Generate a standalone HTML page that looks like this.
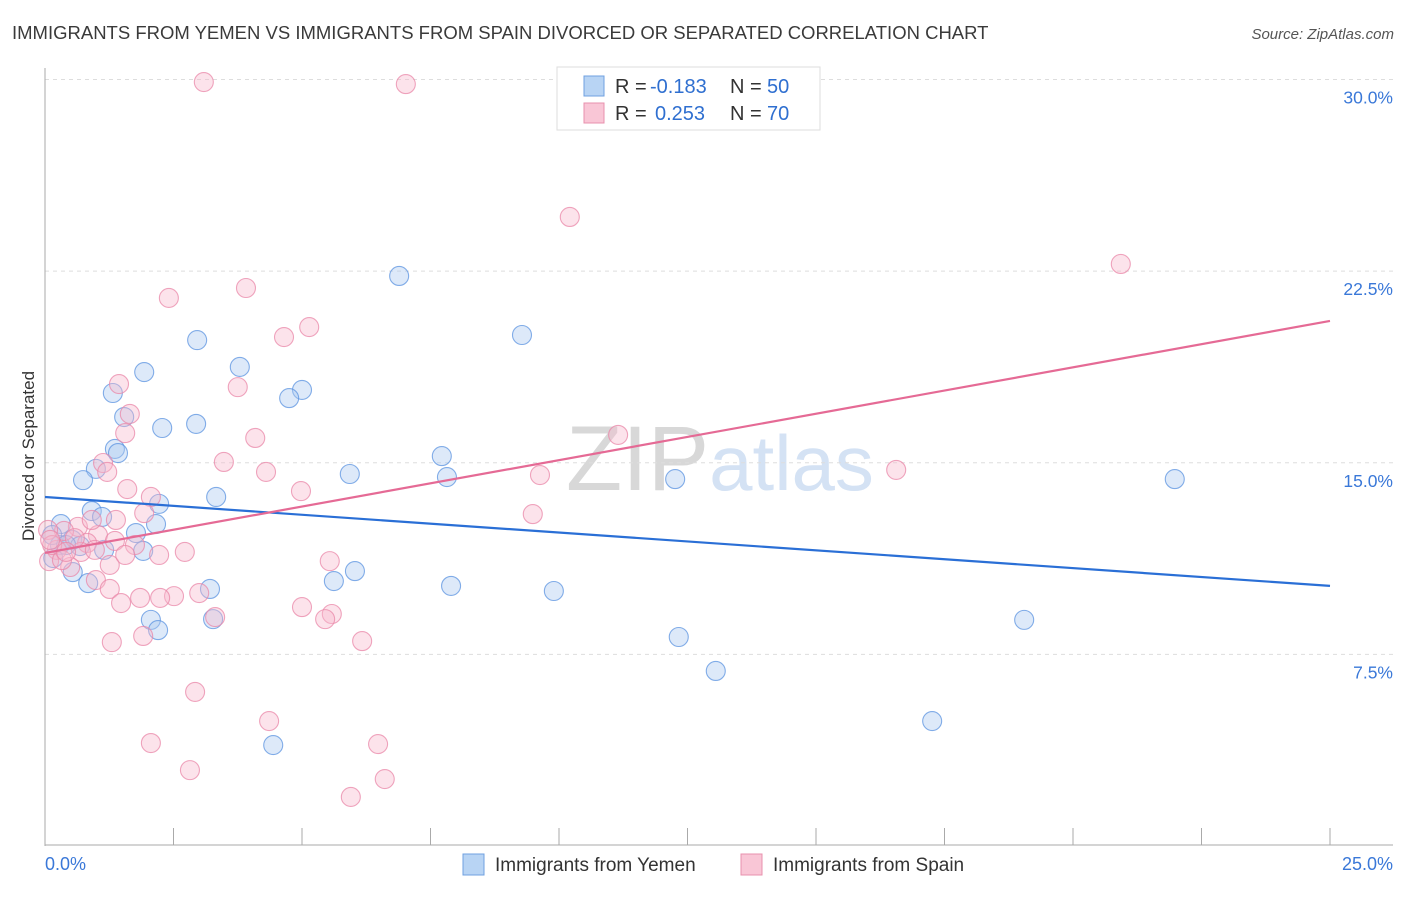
<!DOCTYPE html>
<html><head><meta charset="utf-8"><style>
body{margin:0;background:#fff;font-family:"Liberation Sans",sans-serif;}
svg text{font-family:"Liberation Sans",sans-serif;}
</style></head><body>
<svg id="chart" width="1406" height="892" xmlns="http://www.w3.org/2000/svg">
<text x="12" y="39" font-size="18.5" fill="#3a3a3a">IMMIGRANTS FROM YEMEN VS IMMIGRANTS FROM SPAIN DIVORCED OR SEPARATED CORRELATION CHART</text>
<text x="1394" y="39" font-size="15" fill="#555" text-anchor="end" font-style="italic">Source: ZipAtlas.com</text>
<text x="720" y="490" font-size="92" text-anchor="middle" fill="#ddd" font-family="Liberation Serif"><tspan fill="#d8d8d8">ZIP</tspan><tspan fill="#d4e2f4" font-family="Liberation Sans" font-size="78">atlas</tspan></text>
<g id="grid"></g>
<g id="axes"></g>
<g id="pts"></g>
<g id="lines"></g>
<text transform="translate(34,456) rotate(-90)" font-size="17" fill="#333" text-anchor="middle">Divorced or Separated</text>
<g>
<rect x="557" y="67" width="263" height="63" fill="#fff" stroke="#ddd"/>
<rect x="584" y="76" width="20" height="20" fill="#b8d4f4" stroke="#6fa0e0"/>
<rect x="584" y="103" width="20" height="20" fill="#f9c6d6" stroke="#e890ad"/>
<text x="615" y="93" font-size="20" fill="#333">R =</text>
<text x="650" y="93" font-size="20" fill="#2f6fd0">-0.183</text>
<text x="730" y="93" font-size="20" fill="#333">N =</text>
<text x="767" y="93" font-size="20" fill="#2f6fd0">50</text>
<text x="615" y="120" font-size="20" fill="#333">R =</text>
<text x="655" y="120" font-size="20" fill="#2f6fd0">0.253</text>
<text x="730" y="120" font-size="20" fill="#333">N =</text>
<text x="767" y="120" font-size="20" fill="#2f6fd0">70</text>
</g>
<g>
<rect x="463" y="854" width="21" height="21" fill="#b8d4f4" stroke="#6fa0e0"/>
<text x="495" y="871" font-size="19" fill="#333">Immigrants from Yemen</text>
<rect x="741" y="854" width="21" height="21" fill="#f9c6d6" stroke="#e890ad"/>
<text x="773" y="871" font-size="19" fill="#333">Immigrants from Spain</text>
</g>
</svg>
<script>
const yTicks=[7.5,15,22.5,30];
const yTickLabels=["7.5%","15.0%","22.5%","30.0%"];
const xTicks=[2.5,5,7.5,10,12.5,15,17.5,20,22.5,25];
const xEndLabels=["0.0%","25.0%"];
const yemenX=[6.89,9.28,2.96,3.79,1.93,1.32,5.00,4.75,1.54,2.94,2.28,1.36,1.42,7.72,0.99,5.93,7.82,12.26,21.98,0.74,3.33,2.22,0.91,1.11,0.31,2.16,1.77,0.53,0.29,0.68,1.15,1.91,0.16,0.54,6.03,5.62,0.84,3.21,7.90,9.90,2.06,3.27,19.05,2.20,12.33,13.05,17.26,4.44,0.14,0.41];
const yemenY=[22.31,20.0,19.80,18.75,18.55,17.73,17.85,17.53,16.79,16.52,16.36,15.54,15.38,15.26,14.76,14.56,14.44,14.36,14.36,14.32,13.66,13.39,13.11,12.88,12.60,12.60,12.25,11.98,11.78,11.74,11.59,11.55,11.27,10.72,10.76,10.37,10.29,10.06,10.18,9.98,8.85,8.88,8.85,8.45,8.18,6.85,4.89,3.95,12.17,11.78];
const spainX=[3.09,7.02,10.21,20.93,2.41,3.91,5.14,4.65,1.44,3.75,1.65,1.56,4.09,11.15,3.48,1.13,1.21,4.30,9.63,16.56,1.60,4.98,2.06,9.49,1.93,1.38,0.64,1.03,0.37,0.82,1.36,1.75,0.23,0.70,0.08,2.72,2.22,5.54,0.49,0.99,1.26,1.85,1.48,2.51,3.00,2.24,5.00,5.58,5.45,3.31,1.30,1.91,6.17,2.92,4.36,2.06,6.48,2.82,6.61,5.95,0.06,0.14,0.33,0.58,0.97,1.26,0.91,1.56,0.10,0.41];
const spainY=[29.90,29.82,24.62,22.78,21.45,21.84,20.31,19.92,18.08,17.96,16.91,16.16,15.97,16.09,15.03,14.99,14.64,14.64,14.52,14.72,13.97,13.89,13.66,12.99,13.03,12.76,12.49,12.17,12.33,11.86,11.94,11.78,11.59,11.51,11.15,11.51,11.39,11.15,10.92,10.41,10.06,9.71,9.51,9.78,9.90,9.71,9.35,9.08,8.88,8.96,7.98,8.22,8.02,6.03,4.89,4.03,3.99,2.97,2.62,1.92,12.37,11.78,11.19,12.05,11.59,11.00,12.76,11.39,11.98,11.51];
const yemenTrend=[13.66,10.18];
const spainTrend=[11.47,20.55];
const NS="http://www.w3.org/2000/svg";
const X0=45,X1=1330,Y0=846,Y30=79.5;
const sx=v=>X0+v/25*(X1-X0);
const sy=v=>Y0-v/30*(Y0-Y30);
function mk(tag,attrs,parent){const e=document.createElementNS(NS,tag);for(const k in attrs)e.setAttribute(k,attrs[k]);parent.appendChild(e);return e;}
const grid=document.getElementById('grid'),axes=document.getElementById('axes'),pts=document.getElementById('pts'),lines=document.getElementById('lines');
yTicks.forEach((t,i)=>{
 const l=mk('line',{x1:X0,x2:1393,y1:sy(t),y2:sy(t),stroke:'#ddd','stroke-dasharray':'4,4'},grid);
 
 
 const tx=mk('text',{x:1393,y:sy(t)+24,'font-size':17.5,fill:'#3a78d8','text-anchor':'end'},axes);
 tx.textContent=yTickLabels[i];
 
 
});
const ya=mk('line',{x1:X0,x2:X0,y1:68,y2:Y0,stroke:'#aaa'},axes);


const xa=mk('line',{x1:X0,x2:1393,y1:845,y2:845,stroke:'#aaa'},axes);


xTicks.forEach(t=>{const l=mk('line',{x1:sx(t),x2:sx(t),y1:828,y2:845,stroke:'#aaa'},axes);
 
 });
[[0,'start',45],[25,'end',1393]].forEach((d,i)=>{const tx=mk('text',{x:d[2],y:870,'font-size':18,fill:'#3a78d8','text-anchor':d[1]},axes);tx.textContent=xEndLabels[i];
 
 });
function drawPts(xs,ys,fill,stroke,name){xs.forEach((x,i)=>{const c=mk('circle',{cx:sx(x),cy:sy(ys[i]),r:9.5,fill:fill,'fill-opacity':0.4,stroke:stroke,'stroke-opacity':0.75,'stroke-width':1.1},pts);
 
 });}
drawPts(yemenX,yemenY,'#a9c9f0','#5b93e0','yemen-point');
drawPts(spainX,spainY,'#f7b9cd','#ea87a8','spain-point');
const bl=mk('line',{x1:sx(0),y1:sy(yemenTrend[0]),x2:sx(25),y2:sy(yemenTrend[1]),stroke:'#2a6fd6','stroke-width':2.2},lines);


const pl=mk('line',{x1:sx(0),y1:sy(spainTrend[0]),x2:sx(25),y2:sy(spainTrend[1]),stroke:'#e56a95','stroke-width':2.2},lines);


</script>
</body></html>
